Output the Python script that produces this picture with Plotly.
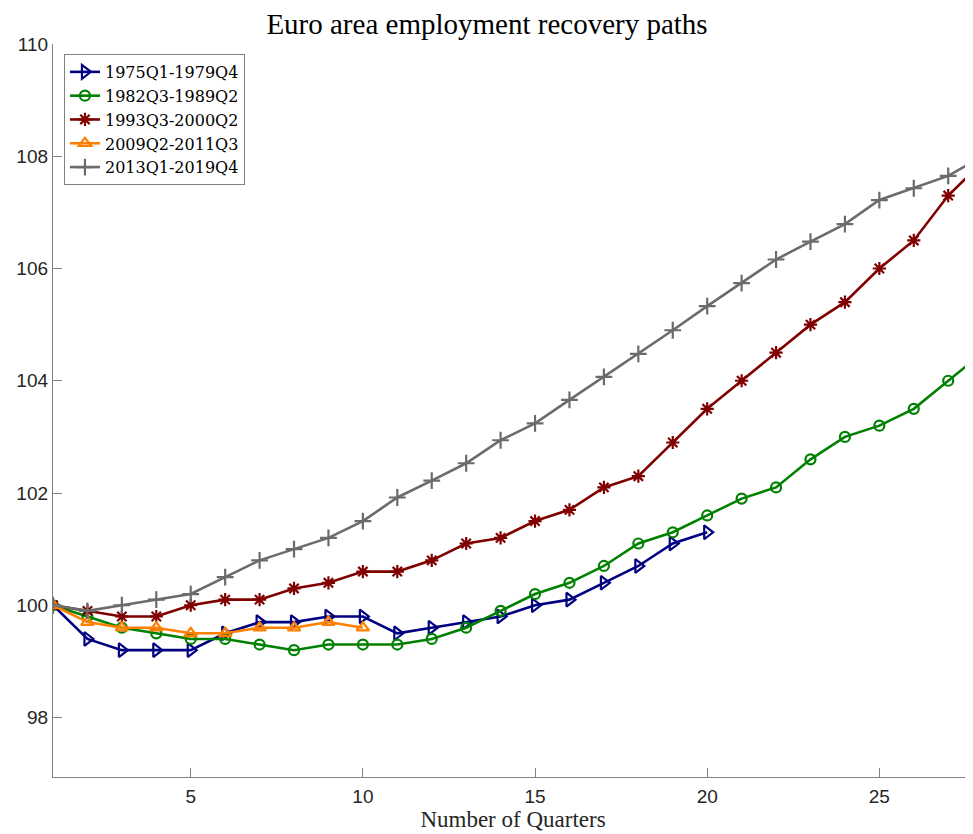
import plotly.graph_objects as go

quarters = list(range(1, 29))

names = ["1975Q1-1979Q4", "1982Q3-1989Q2", "1993Q3-2000Q2", "2009Q2-2011Q3", "2013Q1-2019Q4"]

s1975 = [100.0, 99.4, 99.2, 99.2, 99.2, 99.5, 99.7, 99.7, 99.8, 99.8,
         99.5, 99.6, 99.7, 99.8, 100.0, 100.1, 100.4, 100.7, 101.1, 101.3]
s1982 = [100.0, 99.8, 99.6, 99.5, 99.4, 99.4, 99.3, 99.2, 99.3, 99.3,
         99.3, 99.4, 99.6, 99.9, 100.2, 100.4, 100.7, 101.1, 101.3, 101.6,
         101.9, 102.1, 102.6, 103.0, 103.2, 103.5, 104.0, 104.5]
s1993 = [100.0, 99.9, 99.8, 99.8, 100.0, 100.1, 100.1, 100.3, 100.4, 100.6,
         100.6, 100.8, 101.1, 101.2, 101.5, 101.7, 102.1, 102.3, 102.9, 103.5,
         104.0, 104.5, 105.0, 105.4, 106.0, 106.5, 107.3, 107.9]
s2009 = [100.0, 99.7, 99.6, 99.6, 99.5, 99.5, 99.6, 99.6, 99.7, 99.6]
s2013 = [100.0, 99.9, 100.0, 100.1, 100.2, 100.5, 100.8, 101.0, 101.2, 101.5,
         101.92, 102.22, 102.53, 102.94, 103.24, 103.66, 104.07, 104.48, 104.9, 105.33,
         105.74, 106.16, 106.48, 106.79, 107.22, 107.43, 107.65, 108.0]

series = [s1975, s1982, s1993, s2009, s2013]
colors = ["#000080", "#008000", "#800000", "#FF8000", "#6b6b6b"]
symbols = ["triangle-right-open", "circle-open", "asterisk-open", "triangle-up-open", "cross-thin-open"]
msizes = [12, 10, 11, 11, 12]

fig = go.Figure()
for name, ys, c, sym, ms in zip(names, series, colors, symbols, msizes):
    fig.add_trace(go.Scatter(
        x=quarters[:len(ys)], y=ys, name=name, mode="lines+markers",
        line=dict(color=c, width=2.6),
        marker=dict(symbol=sym, size=ms, color=c, line=dict(color=c, width=2.2)),
        cliponaxis=True,
    ))

axis_common = dict(
    showline=True, linecolor="#808080", linewidth=1.3,
    ticks="inside", ticklen=9, tickcolor="#808080", tickwidth=1,
    showgrid=False, zeroline=False, mirror=False,
    tickfont=dict(family="Liberation Sans, Arial, sans-serif", size=19, color="#262626"),
)

fig.update_layout(
    width=973, height=834,
    margin=dict(l=41, r=8, t=36, b=65),
    paper_bgcolor="white", plot_bgcolor="white",
    title=dict(text="Euro area employment recovery paths", x=0.4923, xref="container",
               xanchor="center", y=0.9812, yref="container", yanchor="middle",
               font=dict(family="Liberation Serif, Times New Roman, serif", size=29, color="black")),
    showlegend=True,
    legend=dict(x=0.0119, y=0.9864, xanchor="left", yanchor="top",
                bgcolor="white", bordercolor="#808080", borderwidth=1,
                font=dict(family="DejaVu Serif, Liberation Serif, serif", size=16, color="black"),
                tracegroupgap=0, itemwidth=30),
    xaxis=dict(range=[1, 27.72], tickvals=[5, 10, 15, 20, 25],
               title=dict(text="Number of Quarters", standoff=0,
                          font=dict(family="Liberation Serif, Times New Roman, serif", size=23, color="#262626")),
               ticklabelstandoff=2, **axis_common),
    yaxis=dict(range=[96.94, 110], tickvals=[98, 100, 102, 104, 106, 108, 110],
               ticklabelstandoff=0, **axis_common),
)

fig.write_html("out.html")
